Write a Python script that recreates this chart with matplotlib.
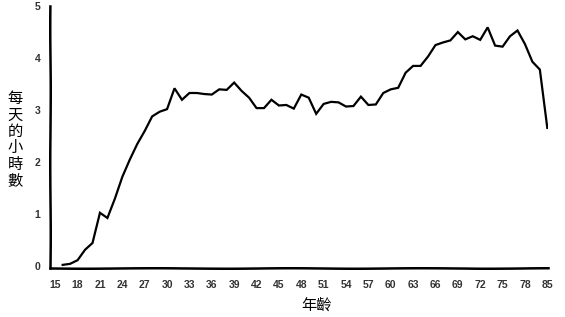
"""
每天的小時數 vs 年齡：手繪風格折線圖，輸出 out.png（565x317）。
"""

import matplotlib
matplotlib.use("Agg")
import matplotlib.pyplot as plt
import numpy as np

# 年齡類別（16~80 逐歲，最後一格為 85）
ages = list(range(16, 81)) + [85]
hours = [
    0.03, 0.05, 0.12, 0.32, 0.45, 1.03, 0.93, 1.30, 1.72, 2.05,
    2.35, 2.60, 2.88, 2.97, 3.02, 3.42, 3.20, 3.33, 3.33, 3.31,
    3.30, 3.40, 3.39, 3.53, 3.37, 3.24, 3.04, 3.04, 3.20, 3.09,
    3.10, 3.03, 3.30, 3.24, 2.93, 3.12, 3.16, 3.15, 3.07, 3.08,
    3.26, 3.10, 3.11, 3.33, 3.40, 3.43, 3.72, 3.85, 3.85, 4.03,
    4.25, 4.30, 4.34, 4.50, 4.36, 4.42, 4.35, 4.59, 4.24, 4.22,
    4.42, 4.53, 4.27, 3.93, 3.78, 2.66,
]
x_tick_ages = [15, 18, 21, 24, 27, 30, 33, 36, 39, 42, 45, 48, 51, 54,
               57, 60, 63, 66, 69, 72, 75, 78, 85]
y_ticks = [0, 1, 2, 3, 4, 5]

x_label = "年齡"
y_label = "每天的小時數"

# 類別位置：每個年齡佔一格，15 放在第一格之前
slot = {a: i for i, a in enumerate(ages)}
slot[15] = -1

cjk = ["Noto Sans CJK TC", "DejaVu Sans"]

fig = plt.figure(figsize=(5.65, 3.17), dpi=100)
ax = fig.add_axes([0.0885, 0.1546, 0.8815, 0.8264])

ax.plot([slot[a] for a in ages], hours, color="black", lw=1.6,
        solid_joinstyle="miter")

ax.set_xlim(-1.7, slot[85] + 0.1)
ax.set_ylim(-0.03, 5.0)

ax.set_xticks([slot[a] for a in x_tick_ages])
ax.set_xticklabels([str(a) for a in x_tick_ages])
ax.set_yticks(y_ticks)
ax.set_yticklabels([str(v) for v in y_ticks])

for lab in ax.get_xticklabels() + ax.get_yticklabels():
    lab.set_fontfamily("Liberation Sans")
    lab.set_fontweight("bold")
    lab.set_fontsize(7.5)
    lab.set_color("#333333")
ax.tick_params(axis="x", length=0, pad=9)
ax.tick_params(axis="y", length=0, pad=7)

for side in ["top", "right"]:
    ax.spines[side].set_visible(False)
for side in ["left", "bottom"]:
    ax.spines[side].set_linewidth(1.8)
    ax.spines[side].set_color("black")
    ax.spines[side].set_sketch_params(scale=0.25, length=150, randomness=2)

ax.set_xlabel(x_label, family=cjk, fontsize=11)
ax.xaxis.set_label_coords(0.535, -0.11)
ax.set_ylabel("\n".join(y_label), family=cjk, fontsize=11, rotation=0,
              va="center", ha="center", linespacing=0.95)
ax.yaxis.set_label_coords(-0.07, 0.49)

fig.savefig("out.png", dpi=100, facecolor="white")
plt.close(fig)
